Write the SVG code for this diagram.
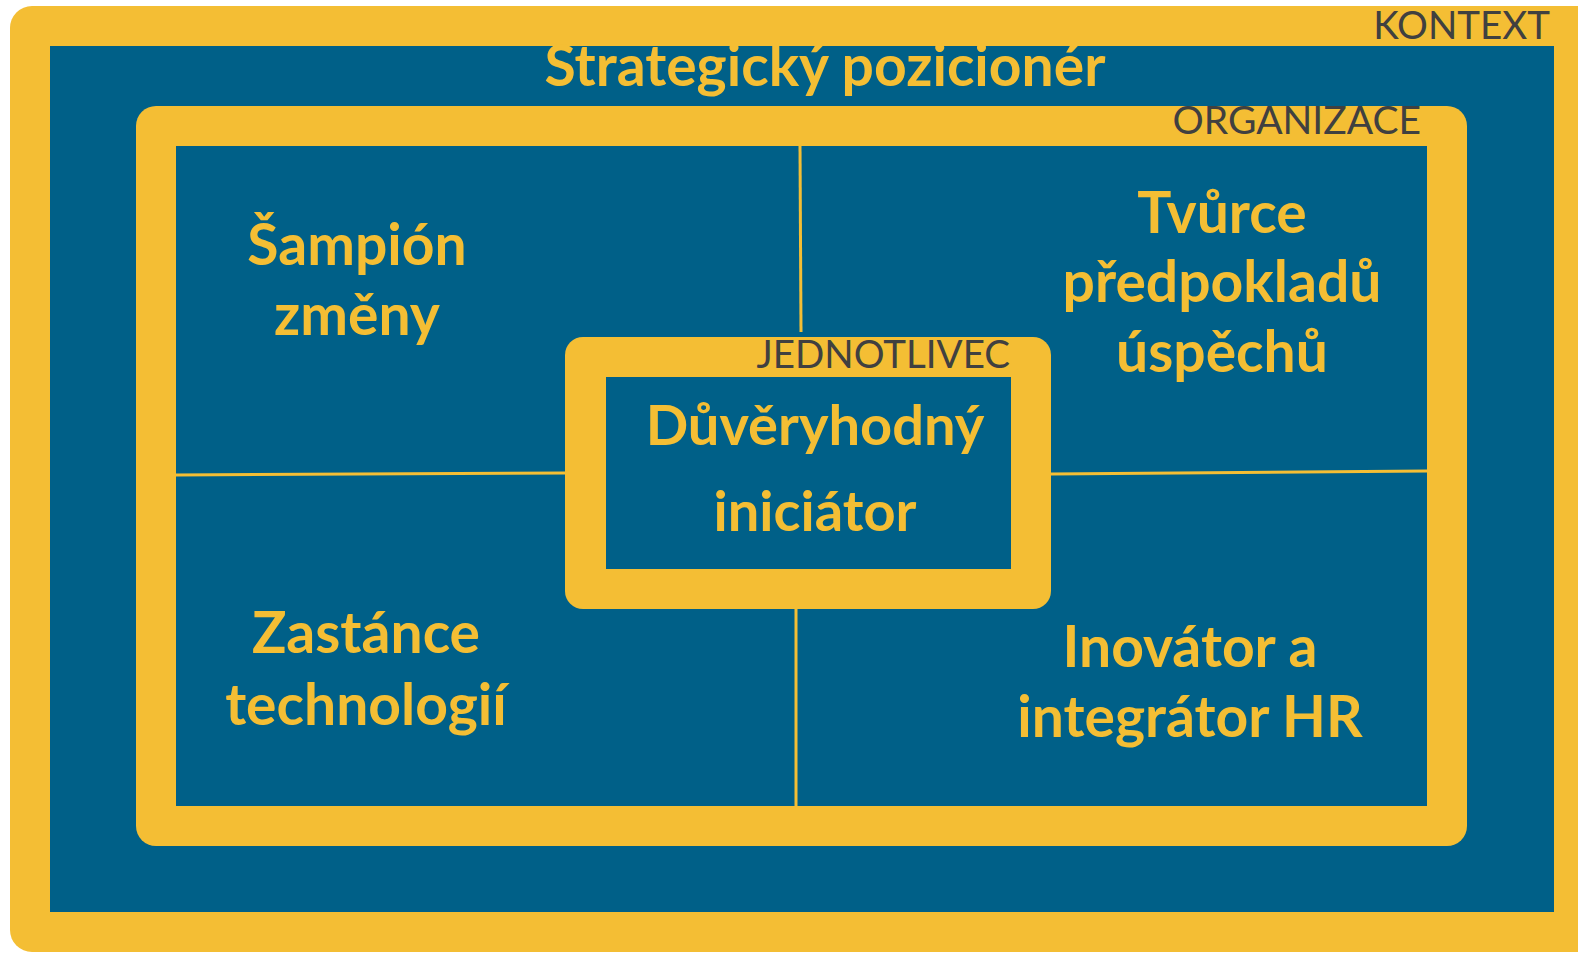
<svg xmlns="http://www.w3.org/2000/svg" width="1578" height="953" viewBox="0 0 1578 953">
<style>
.y{fill:#F4BE34}
.b{fill:#006088}
.t{font-family:Lato,"Open Sans","Liberation Sans",sans-serif;font-weight:700;fill:#F4BE34;text-anchor:middle;font-size:57px}
.l{font-family:Lato,"Open Sans","Liberation Sans",sans-serif;font-weight:400;fill:#404040;text-anchor:end;font-size:38.5px}
.c{stroke:#F4BE34;stroke-width:3;fill:none}
</style>
<rect width="1578" height="953" fill="#ffffff"/>
<g id="kontext">
<rect class="y" x="10" y="6" width="1600" height="946" rx="22"/>
<rect class="b" x="50" y="46" width="1504" height="866"/>
<text class="l" x="1550" y="39">KONTEXT</text>
<text class="t" x="825" y="86">Strategický pozicionér</text>
</g>
<g id="organizace">
<rect class="y" x="136" y="106" width="1331" height="740" rx="20"/>
<rect class="b" x="176" y="146" width="1251" height="660"/>
<text class="l" x="1421" y="134" style="font-size:39px">ORGANIZACE</text>
</g>
<g id="connectors">
<line class="c" x1="800" y1="146" x2="801" y2="332"/>
<line class="c" x1="796" y1="609" x2="796" y2="806"/>
<line class="c" x1="176" y1="475" x2="565" y2="473"/>
<line class="c" x1="1051" y1="474" x2="1427" y2="471"/>
</g>
<g id="sampion">
<text class="t" x="357" y="265">Šampión</text>
<text class="t" x="357" y="335">změny</text>
</g>
<g id="tvurce">
<text class="t" x="1222" y="233">Tvůrce</text>
<text class="t" x="1222" y="302">předpokladů</text>
<text class="t" x="1222" y="372">úspěchů</text>
</g>
<g id="zastance">
<text class="t" x="366" y="653">Zastánce</text>
<text class="t" x="366" y="725">technologií</text>
</g>
<g id="inovator">
<text class="t" x="1190" y="667">Inovátor a</text>
<text class="t" x="1190" y="737">integrátor HR</text>
</g>
<g id="jednotlivec">
<rect class="y" x="565" y="337" width="486" height="272" rx="18"/>
<rect class="b" x="606" y="377" width="405" height="192"/>
<text class="l" x="1010" y="368">JEDNOTLIVEC</text>
<text class="t" x="815" y="445" style="font-size:56px">Důvěryhodný</text>
<text class="t" x="815" y="531" style="font-size:56px">iniciátor</text>
</g>
</svg>
